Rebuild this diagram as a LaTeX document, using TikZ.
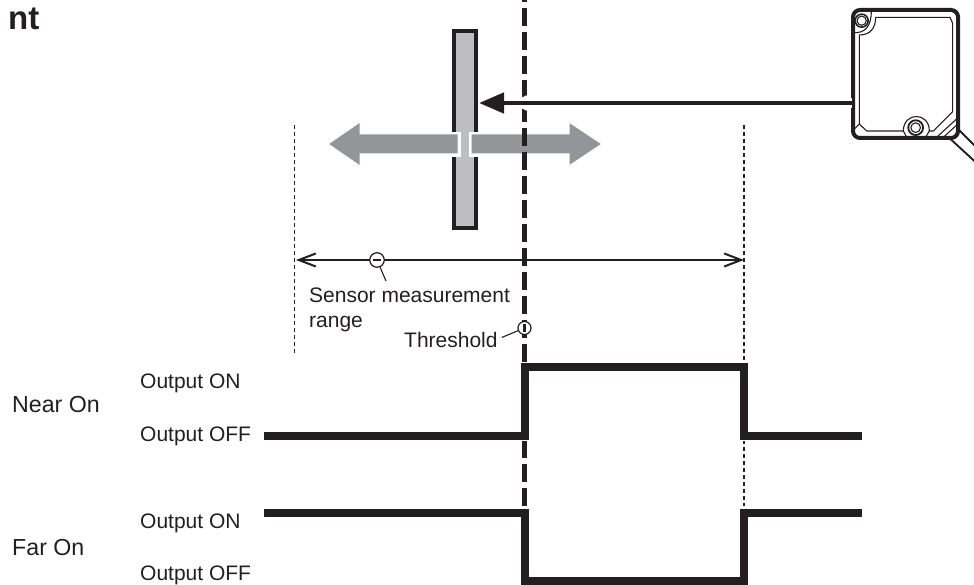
\documentclass[tikz,border=0pt]{standalone}
\usepackage{fontspec}
\setmainfont{Liberation Sans}
\usetikzlibrary{arrows.meta}
\definecolor{inkblack}{HTML}{231F20}
\definecolor{targetgray}{HTML}{BCBEC0}
\definecolor{movegray}{HTML}{939598}
\tikzset{
    wv line/.style={line width=7.3pt, draw=inkblack, line join=miter,
                    preaction={draw=white, line width=9.5pt}},
    th line/.style={line width=4.3pt, draw=inkblack,
                    dash pattern=on 18pt off 6pt, dash phase=16.3pt},
    rg line/.style={line width=1.5pt, draw=inkblack, dash pattern=on 4pt off 3pt},
    dim line/.style={line width=2pt, draw=inkblack},
    leader/.style={line width=1.1pt, draw=inkblack},
    mark circ/.style={circle, draw=inkblack, line width=1.2pt, fill=white,
                      minimum size=14.5pt, inner sep=0pt},
    lbl/.style={font=\fontsize{21pt}{25pt}\selectfont, text=inkblack,
                anchor=base west, inner sep=0pt},
    side lbl/.style={lbl, font=\fontsize{23.2pt}{27pt}\selectfont},
    sn line/.style={line width=1.1pt, draw=inkblack, line join=round},
    sn body/.style={line width=4pt, draw=inkblack, fill=white, rounded corners=7pt},
}
\begin{document}
\begin{tikzpicture}[x=1pt, y=-1pt]
    \useasboundingbox (0, 0) rectangle (974, 585);
    % Heading remainder
    \node[lbl, font=\fontsize{33pt}{36pt}\selectfont\bfseries] (head) at (8, 30) {nt};
    % Range limits
    \coordinate (rgLt) at (294.5, 125);
    \coordinate (rgLb) at (294.5, 354);
    \coordinate (rgRt) at (744, 125);
    \coordinate (rgRb) at (744, 506);
    \draw[rg line] (rgLt) -- (rgLb);
    \draw[rg line] (rgRt) -- (rgRb);
    % Target plate
    \node[draw=inkblack, line width=4pt, fill=targetgray, minimum width=22pt,
          minimum height=197pt, inner sep=0pt] (plate) at (465, 129.5) {};
    % Travel arrow
    \fill[white] (450, 132) rectangle (480, 157);
    \fill[targetgray] (461, 132) rectangle (468.5, 157);
    \fill[movegray, draw=white, line width=1pt] (458, 134) -- (360, 134) -- (360, 122)
        -- (328, 144) -- (360, 166) -- (360, 154) -- (458, 154) -- cycle;
    \fill[movegray, draw=white, line width=1pt] (471, 134) -- (569, 134) -- (569, 122)
        -- (602, 144) -- (569, 166) -- (569, 154) -- (471, 154) -- cycle;
    % Threshold line
    \coordinate (thT) at (524.5, 0);
    \coordinate (thB) at (524.5, 507);
    \draw[th line] (thT) -- (thB);
    % Sensor head
    \node[sn body, minimum width=105pt, minimum height=128pt, inner sep=0pt]
        (sensor) at (905.5, 74) {};
    \begin{scope}[shift={(830, 0)}, x=.3333pt, y=-.3333pt]
        \draw[sn line] (137, 52) -- (360, 52) -- (368, 70) -- (368, 335) -- (310, 393)
            -- (298, 393) .. controls (298, 335) and (220, 335) .. (220, 393)
            -- (110, 393) -- (88, 372) -- (88, 105)
            .. controls (120, 105) and (137, 85) .. cycle;
        \draw[sn line] (220, 393) -- (232, 415);
        \draw[sn line] (298, 393) -- (285, 415);
        \draw[sn line] (70, 98) .. controls (105, 100) and (124, 80) .. (124, 32);
        \draw[line width=1.6pt, draw=inkblack, fill=white] (95, 62) circle[radius=6.5pt];
        \draw[sn line, fill=white] (95, 62) circle[radius=4.6pt];
        \draw[line width=1.8pt, draw=inkblack, fill=white] (257, 383) circle[radius=7.4pt];
        \draw[sn line, fill=white] (257, 383) circle[radius=4.8pt];
        \draw[sn line] (66, 394) -- (88, 372);
        \draw[sn line] (364, 32) -- (388, 48);
        \draw[sn line] (322, 410) -- (385, 352);
        \draw[sn line] (340, 412) -- (388, 368);
        \draw[line width=1.9pt, draw=inkblack] (385, 388) -- (433, 436);
        \draw[line width=1.9pt, draw=inkblack] (358, 414) -- (433, 483);
    \end{scope}
    % Beam
    \coordinate (beamS) at (852, 103);
    \coordinate (beamE) at (479, 103);
    \draw[line width=4.6pt, draw=inkblack,
          preaction={draw=white, line width=10pt, shorten >=30pt},
          -{Stealth[length=25pt, width=20pt, inset=0pt]}]
        (beamS) -- (beamE);
    % Measuring range
    \coordinate (rgA) at (296, 260);
    \coordinate (rgB) at (744, 260);
    \draw[dim line, {Straight Barb[length=17pt, width=13pt]}-{Straight Barb[length=17pt, width=13pt]}]
        (rgA) -- (rgB);
    \node[mark circ] (minus) at (377, 260) {};
    \draw[line width=1.8pt, draw=inkblack] (minus.center) ++(-4, 0) -- ++(8, 0);
    \coordinate (minusEnd) at (386, 281);
    \draw[leader] (minus) -- (minusEnd);
    \node[lbl] (rangeA) at (309, 302) {Sensor measurement};
    \node[lbl] (rangeB) at (309, 327) {range};
    % Threshold mark
    \node[mark circ, minimum size=13pt] (plus) at (524.5, 328) {};
    \draw[line width=3.4pt, draw=inkblack] (plus.center) ++(0, -4) -- ++(0, 8);
    \node[lbl] (thres) at (404, 347) {Threshold};
    \draw[leader] (thres.east) ++(4, -2) coordinate (thresEnd) -- (plus);
    % Outputs
    \coordinate (n0) at (264, 436);
    \coordinate (n1) at (525, 436);
    \coordinate (n2) at (525, 367);
    \coordinate (n3) at (744, 367);
    \coordinate (n4) at (744, 436);
    \coordinate (n5) at (862, 436);
    \draw[wv line] (n0) -- (n1) -- (n2) -- (n3) -- (n4) -- (n5);
    \coordinate (f0) at (264, 513);
    \coordinate (f1) at (525, 513);
    \coordinate (f2) at (525, 581);
    \coordinate (f3) at (744, 581);
    \coordinate (f4) at (744, 513);
    \coordinate (f5) at (862, 513);
    \draw[wv line] (f0) -- (f1) -- (f2) -- (f3) -- (f4) -- (f5);
    % Labels
    \node[side lbl] (nearOn) at (12, 412) {Near On};
    \node[side lbl] (farOn) at (12, 555) {Far On};
    \node[lbl] (nOn) at (140, 388) {Output ON};
    \node[lbl] (nOff) at (140, 441) {Output OFF};
    \node[lbl] (fOn) at (140, 528) {Output ON};
    \node[lbl] (fOff) at (140, 580) {Output OFF};
\end{tikzpicture}
\end{document}
